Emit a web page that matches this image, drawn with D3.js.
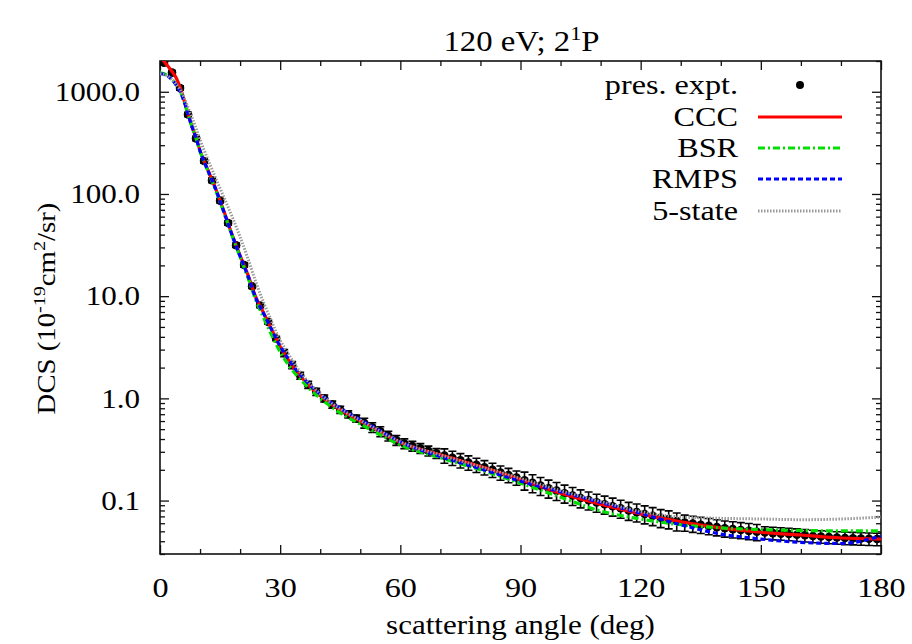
<!DOCTYPE html>
<html><head><meta charset="utf-8">
<script src="https://cdn.jsdelivr.net/npm/d3@7"></script>
<style>
body{margin:0;background:#fff}
svg text{font-family:"Liberation Serif","Times New Roman",serif;fill:#000}
</style>
</head><body>
<svg id="c" width="912" height="644"></svg>
<script>
// ---------------- DATA ----------------
const exptAngles = [1,3,5,7,9,11,13,15,17,19,21,23,25,27,29,31,33,35,37,39,41,43,45,47,49,51,53,55,57,59,
  61,63,65,67,69,71,73,75,77,79,81,83,85,87,89,91,93,95,97,99,101,103,105,107,109,111,113,115,117,119,
  121,123,125,127,129,131,133,135,137,139,141,143,145,147,149,151,153,155,157,159,161,163,165,167,169,171,173,175,177,179];
const exptDCS = [1920,1540,1090,600,350,210,136,86,52,31.5,20.2,12.5,8.1,5.6,3.85,2.78,2.12,1.67,1.36,1.16,
  1.0,0.87,0.775,0.70,0.635,0.575,0.52,0.475,0.43,0.39,
  0.362,0.342,0.325,0.307,0.29,0.276,0.262,0.248,0.236,0.224,0.212,0.2,0.188,0.178,0.168,
  0.158,0.149,0.140,0.132,0.125,0.118,0.112,0.106,0.101,0.096,0.092,0.088,0.084,0.080,0.077,
  0.074,0.071,0.068,0.066,0.063,0.061,0.0595,0.058,0.0565,0.055,0.0535,0.0525,0.0515,0.0505,0.0495,
  0.0487,0.048,0.0475,0.047,0.0463,0.0457,0.045,0.0445,0.044,0.0435,0.043,0.0428,0.0425,0.0423,0.042];
const exptErrPct = [5,5,5,5,5,5,5,5,5,5,5,5,5,5,5,8,8,8,8,8,8,8,8,8,8,11,11,11,11,11,
  11,11,11,11,11,16,16,16,16,16,16,16,16,16,16,20,20,20,20,20,20,20,20,20,20,20,20,20,20,20,
  20,20,20,20,20,18,18,18,18,18,18,18,18,18,18,14,14,14,14,14,14,14,14,14,14,14,14,14,14,14];

const modelAngles = [0,1,2,3,4,5,6,7,8,9,10,12,14,16,18,20,22,24,26,28,30,32,34,36,38,40,42,45,50,55,60,
  70,80,90,100,110,120,130,140,150,160,170,180];
const cccDCS = [2200,1980,1780,1580,1380,1110,830,610,455,355,265,170,110,67,40,25,16,9.6,6.7,4.6,3.2,2.4,1.85,1.5,1.24,1.06,
  0.92,0.77,0.6,0.47,0.37,0.28,0.215,0.16,0.118,0.092,0.074,0.062,0.054,0.049,0.046,0.043,0.042];
const bsrDCS = [1530,1500,1430,1320,1180,1020,800,600,450,350,262,166,106,65,39,24,15,9.0,6.0,4.05,2.85,2.15,1.7,1.4,1.17,1.0,
  0.87,0.72,0.56,0.44,0.35,0.262,0.2,0.148,0.108,0.079,0.066,0.058,0.054,0.052,0.051,0.0505,0.0505];
const rmpsDCS = [1500,1480,1420,1310,1170,1010,810,605,452,352,263,168,109,66,39.5,24.5,15.6,9.4,6.6,4.6,3.25,2.45,1.9,1.55,1.28,1.1,
  0.95,0.8,0.62,0.48,0.375,0.27,0.205,0.155,0.122,0.096,0.075,0.058,0.047,0.042,0.039,0.038,0.045];
const state5DCS = [1500,1480,1420,1320,1190,1050,880,700,560,440,340,215,140,92,60,38,23,13.5,8.4,5.5,3.7,2.75,2.05,1.62,1.32,1.11,
  0.95,0.79,0.61,0.475,0.375,0.28,0.215,0.165,0.125,0.098,0.078,0.069,0.067,0.066,0.065,0.066,0.069];

const xTickValues = [0,30,60,90,120,150,180];
const xMinorTickValues = [10,20,40,50,70,80,100,110,130,140,160,170];
const yTickValues = [0.1,1,10,100,1000];
const legendLabels = ["pres. expt.","CCC","BSR","RMPS","5-state"];

// ---------------- CHART ----------------
const svg = d3.select('#c');
const m = {l:160, r:881, t:61, b:554};
const SX = 1.15, FS = 27;
const x = d3.scaleLinear().domain([0,180]).range([m.l,m.r]);
const y = d3.scaleLog().domain([0.03,2000]).range([m.b,m.t]);

svg.append('defs').append('clipPath').attr('id','clip').append('rect')
  .attr('x',m.l).attr('y',m.t).attr('width',m.r-m.l).attr('height',m.b-m.t);

function styleAxis(g){ g.select('.domain').remove(); g.selectAll('line').attr('stroke','#111').attr('stroke-width',1.3); }
const yMinor = y.ticks().filter(v => Math.abs(Math.log10(v)-Math.round(Math.log10(v)))>1e-6);

const gxb = svg.append('g').attr('transform',`translate(0,${m.b})`)
  .call(d3.axisBottom(x).tickValues(xTickValues).tickSize(-9).tickPadding(23).tickFormat(d=>d));
gxb.call(styleAxis);
gxb.selectAll('text').attr('font-size',FS+1).attr('transform',`scale(${SX},1)`);
svg.append('g').attr('transform',`translate(0,${m.b})`)
  .call(d3.axisBottom(x).tickValues(xMinorTickValues).tickSize(-5).tickFormat('')).call(styleAxis);
svg.append('g').attr('transform',`translate(0,${m.t})`)
  .call(d3.axisTop(x).tickValues(xTickValues).tickSize(-9).tickFormat('')).call(styleAxis);
svg.append('g').attr('transform',`translate(0,${m.t})`)
  .call(d3.axisTop(x).tickValues(xMinorTickValues).tickSize(-5).tickFormat('')).call(styleAxis);

const gyl = svg.append('g').attr('transform',`translate(${m.l},0)`)
  .call(d3.axisLeft(y).tickValues(yTickValues).tickSize(-9).tickPadding(20).tickFormat(d3.format('.1f')));
gyl.call(styleAxis);
gyl.selectAll('text').attr('font-size',FS).attr('x',-20/SX).attr('transform',`scale(${SX},1)`);
svg.append('g').attr('transform',`translate(${m.l},0)`)
  .call(d3.axisLeft(y).tickValues(yMinor).tickSize(-5).tickFormat('')).call(styleAxis);
svg.append('g').attr('transform',`translate(${m.r},0)`)
  .call(d3.axisRight(y).tickValues(yTickValues).tickSize(-9).tickFormat('')).call(styleAxis);
svg.append('g').attr('transform',`translate(${m.r},0)`)
  .call(d3.axisRight(y).tickValues(yMinor).tickSize(-5).tickFormat('')).call(styleAxis);

svg.append('rect').attr('x',m.l).attr('y',m.t).attr('width',m.r-m.l).attr('height',m.b-m.t)
  .attr('fill','none').attr('stroke','#111').attr('stroke-width',1.6);

const plot = svg.append('g').attr('clip-path','url(#clip)');
const expt = exptAngles.map((a,i)=>({a, v:exptDCS[i], e:exptErrPct[i]}));
plot.append('g').selectAll('circle').data(expt).join('circle')
  .attr('cx',d=>x(d.a)).attr('cy',d=>y(d.v)).attr('r',4.3).attr('fill','#000');
const eb = plot.append('g').attr('stroke','#000').attr('stroke-width',1.6).attr('fill','none');
eb.selectAll('path').data(expt).join('path').attr('d',d=>{
  const xx = x(d.a), lo = y(d.v*(1-d.e/100)), hi = y(d.v*(1+d.e/100)), c=4;
  return `M${xx},${lo}V${hi}M${xx-c},${lo}H${xx+c}M${xx-c},${hi}H${xx+c}`;
});

const line = d3.line().x(d=>x(d[0])).y(d=>y(d[1])).curve(d3.curveMonotoneX);
const series = [
  {name:'CCC', vals:cccDCS, color:'#ff0000', dash:null, w:3.2},
  {name:'BSR', vals:bsrDCS, color:'#00e000', dash:'7,3,2,3', w:3.2},
  {name:'RMPS', vals:rmpsDCS, color:'#0000ff', dash:'5,3', w:3.2},
  {name:'5-state', vals:state5DCS, color:'#999999', dash:'1.5,1.5', w:3}
];
series.forEach(s=>{
  plot.append('path').datum(modelAngles.map((a,i)=>[a,s.vals[i]]))
    .attr('d',line).attr('fill','none').attr('stroke',s.color).attr('stroke-width',s.w)
    .attr('stroke-dasharray',s.dash);
});

const lg = svg.append('g');
const rowY = [85,117,148,179,211];
legendLabels.forEach((lab,i)=>{
  lg.append('g').attr('transform',`translate(738,${rowY[i]+9})`)
    .append('text').attr('text-anchor','end').attr('font-size',FS+1)
    .attr('transform',`scale(${SX},1)`).text(lab);
  if(i===0){
    lg.append('circle').attr('cx',800).attr('cy',rowY[i]).attr('r',4).attr('fill','#000');
  } else {
    const s = series[i-1];
    lg.append('line').attr('x1',758).attr('x2',842).attr('y1',rowY[i]).attr('y2',rowY[i])
      .attr('stroke',s.color).attr('stroke-width',s.w).attr('stroke-dasharray',s.dash);
  }
});

const TFS = 28.5;
const tt = svg.append('g').attr('transform',`translate(${(m.l+m.r)/2+1},51)`)
  .append('text').attr('text-anchor','middle').attr('font-size',TFS).attr('transform',`scale(${SX},1)`);
tt.append('tspan').text('120 eV; 2');
tt.append('tspan').attr('font-size',TFS*0.68).attr('dy',-11).text('1');
tt.append('tspan').attr('dy',11).text('P');

svg.append('g').attr('transform',`translate(${(m.l+m.r)/2},634)`)
  .append('text').attr('text-anchor','middle').attr('font-size',FS).attr('transform',`scale(${SX},1)`)
  .text('scattering angle (deg)');

const YFS = 25;
const yl = svg.append('g').attr('transform',`translate(55,${(m.t+m.b)/2+1}) rotate(-90)`)
  .append('text').attr('text-anchor','middle').attr('font-size',YFS).attr('transform',`scale(${SX},1)`);
yl.append('tspan').text('DCS (10');
yl.append('tspan').attr('font-size',YFS*0.7).attr('dy',-10).text('-19');
yl.append('tspan').attr('dy',10).text('cm');
yl.append('tspan').attr('font-size',YFS*0.7).attr('dy',-10).text('2');
yl.append('tspan').attr('dy',10).text('/sr)');
</script>
</body></html>
